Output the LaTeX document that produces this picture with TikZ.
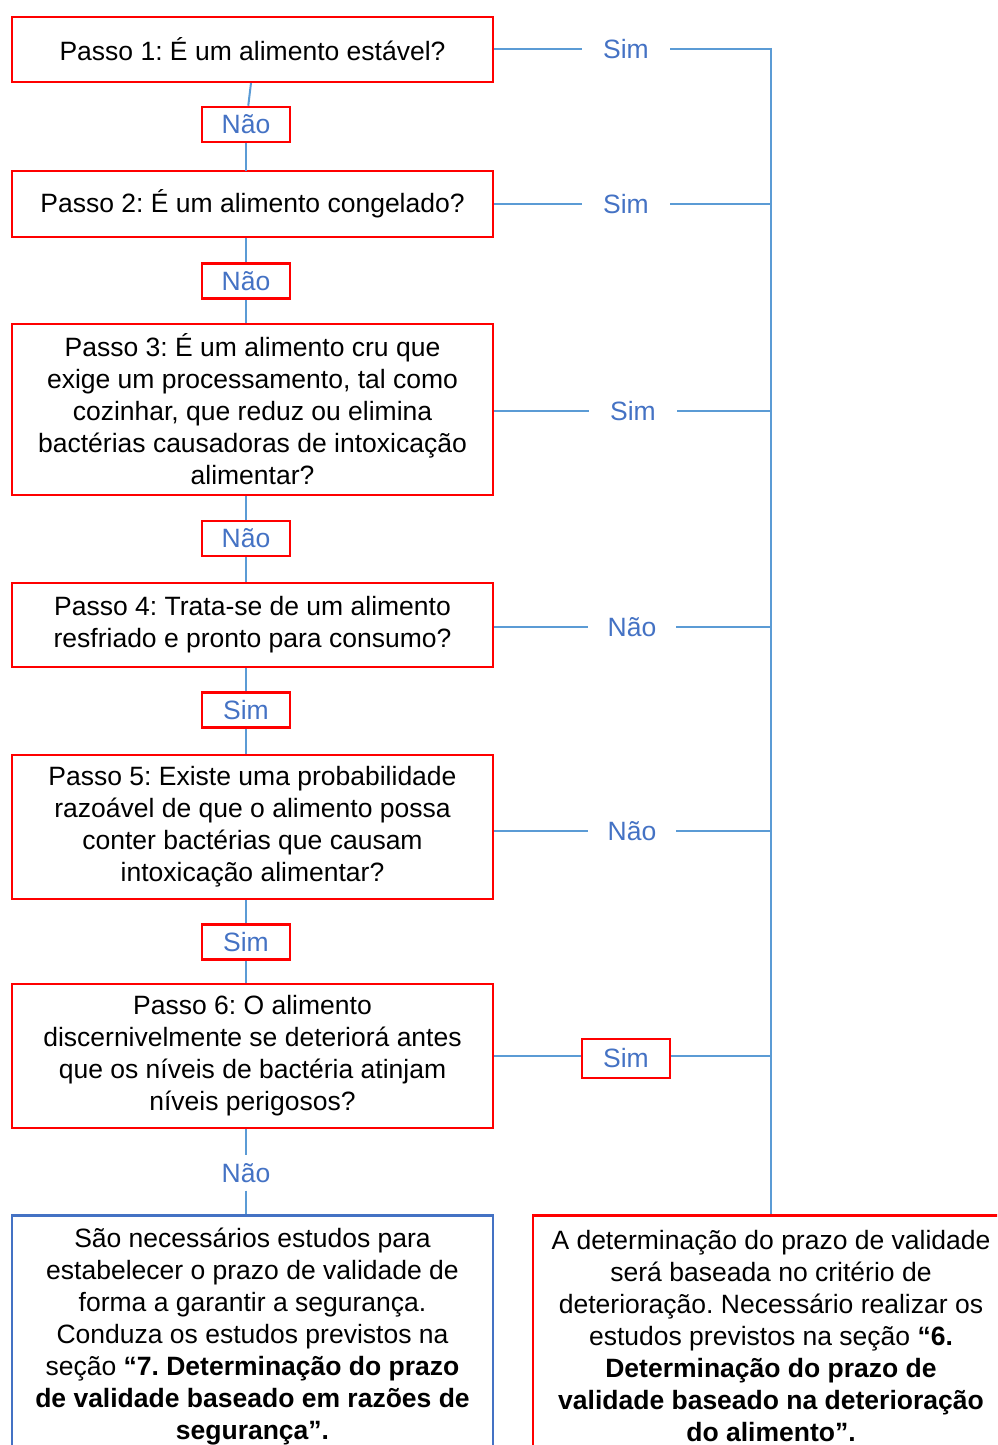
\documentclass[tikz,border=0pt]{standalone}
\usepackage{fontspec}
\setmainfont{Liberation Sans}
\definecolor{boxred}{HTML}{FF0000}
\definecolor{lineblue}{HTML}{5B9BD5}
\definecolor{txtblue}{HTML}{4472C4}
\frenchspacing
\begin{document}
\begin{tikzpicture}[x=1pt,y=-1pt,
  stepbox/.style={draw=boxred, line width=2.5pt, fill=white, minimum width=481pt, align=center, inner sep=0pt, font=\fontsize{26.5}{32}\selectfont, text=black},
  lbl/.style={minimum width=88pt, minimum height=35pt, inner sep=0pt, font=\fontsize{26.5}{32}\selectfont, text=txtblue, fill=white},
  lblbox/.style={lbl, draw=boxred, line width=2.5pt},
  conn/.style={draw=lineblue, line width=2pt},
  endbox/.style={line width=2.5pt, fill=white, align=center, inner sep=0pt, font=\fontsize{26.5}{32}\selectfont, minimum height=242pt, text=black}]
\useasboundingbox (0,0) rectangle (997,1445);
\clip (0,0) rectangle (997,1445);
\fill[white] (0,0) rectangle (997,1445);

% step boxes
\node[stepbox, minimum height=65pt] (b1) at (252.5,49.5) {Passo 1: É um alimento estável?};
\node[stepbox, minimum height=66pt] (b2) at (252.5,204) {Passo 2: É um alimento congelado?};
\node[stepbox, minimum height=171pt] (b3) at (252.5,409.5) {Passo 3: É um alimento cru que\\exige um processamento, tal como\\cozinhar, que reduz ou elimina\\bactérias causadoras de intoxicação\\alimentar?};
\node[stepbox, minimum height=84pt] (b4) at (252.5,625) {Passo 4: Trata-se de um alimento\\resfriado e pronto para consumo?};
\node[stepbox, minimum height=144pt] (b5) at (252.5,827) {Passo 5: Existe uma probabilidade\\razoável de que o alimento possa\\conter bactérias que causam\\intoxicação alimentar?};
\node[stepbox, minimum height=144pt] (b6) at (252.5,1056) {Passo 6: O alimento\\discernivelmente se deteriorá antes\\que os níveis de bactéria atinjam\\níveis perigosos?};

% end boxes
\node[endbox, draw=txtblue, minimum width=481pt, anchor=north] (bl) at (252.5,1214) {São necessários estudos para\\estabelecer o prazo de validade de\\forma a garantir a segurança.\\Conduza os estudos previstos na\\seção \textbf{“7. Determinação do prazo}\\\textbf{de validade baseado em razões de}\\\textbf{segurança”.}};
\node[endbox, draw=boxred, minimum width=476pt, anchor=north] (br) at (771,1214) {A determinação do prazo de validade\\será baseada no critério de\\deterioração. Necessário realizar os\\estudos previstos na seção \textbf{“6.}\\\textbf{Determinação do prazo de}\\\textbf{validade baseado na deterioração}\\\textbf{do alimento”.}};

% vertical labels
\node[lblbox] (n1) at (246,124.5) {Não};
\node[lblbox] (n2) at (246,281) {Não};
\node[lblbox] (n3) at (246,538.5) {Não};
\node[lblbox] (n4) at (246,710) {Sim};
\node[lblbox] (n5) at (246,942) {Sim};
\node[lbl] (n6) at (246,1173) {Não};

% vertical connectors
\coordinate (t1) at (251,83);
\coordinate (t2) at (246,171);
\draw[conn] (t1) -- (n1);
\draw[conn] (n1) -- (t2);
\draw[conn] (n2 |- b2.south) -- (n2);
\draw[conn] (n2) -- (n2 |- b3.north);
\draw[conn] (n3 |- b3.south) -- (n3);
\draw[conn] (n3) -- (n3 |- b4.north);
\draw[conn] (n4 |- b4.south) -- (n4);
\draw[conn] (n4) -- (n4 |- b5.north);
\draw[conn] (n5 |- b5.south) -- (n5);
\draw[conn] (n5) -- (n5 |- b6.north);
\draw[conn] (n6 |- b6.south) -- (n6.north);
\draw[conn] (n6.south) -- (n6 |- bl.north);

% right labels
\node[lbl] (s1) at (626,49) {Sim};
\node[lbl] (s2) at (626,204) {Sim};
\node[lbl] (s3) at (633,411) {Sim};
\node[lbl] (s4) at (632,627) {Não};
\node[lbl] (s5) at (632,831) {Não};
\node[lblbox, minimum height=39pt] (s6) at (626,1058.5) {Sim};

\coordinate (r1) at (771,49);
\coordinate (r2) at (771,204);
\coordinate (r3) at (771,411);
\coordinate (r4) at (771,627);
\coordinate (r5) at (771,831);
\coordinate (r6) at (771,1056);

\draw[conn] (b1.east |- s1) -- (s1.west);
\draw[conn] (s1.east) -- (r1);
\draw[conn] (b2.east |- s2) -- (s2.west);
\draw[conn] (s2.east) -- (r2);
\draw[conn] (b3.east |- s3) -- (s3.west);
\draw[conn] (s3.east) -- (r3);
\draw[conn] (b4.east |- s4) -- (s4.west);
\draw[conn] (s4.east) -- (r4);
\draw[conn] (b5.east |- s5) -- (s5.west);
\draw[conn] (s5.east) -- (r5);
\draw[conn] (b6.east |- r6) -- (s6.west |- r6);
\draw[conn] (s6.east |- r6) -- (r6);
\draw[conn] ([yshift=1pt]r1) -- (br.north);
\end{tikzpicture}
\end{document}
